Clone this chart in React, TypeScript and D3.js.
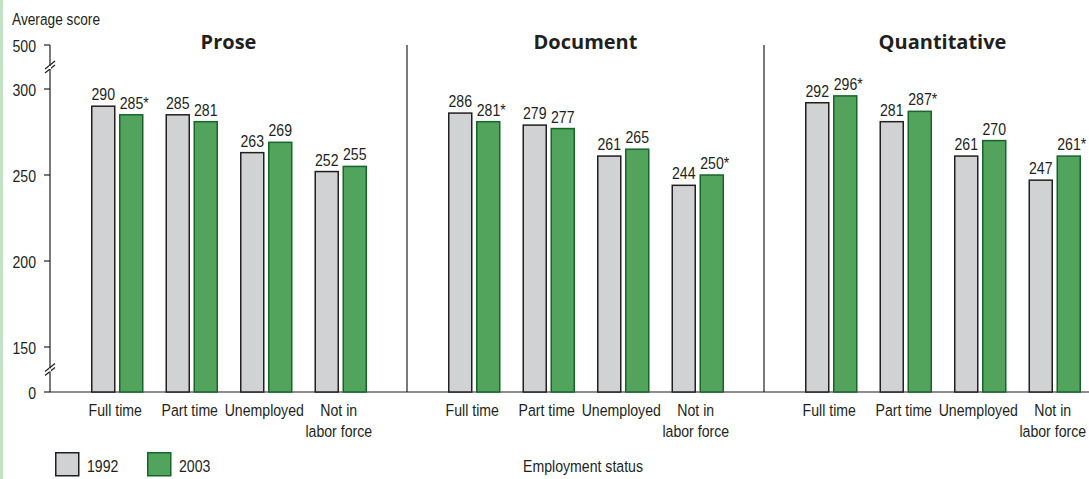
import React from "react";
import * as d3 from "d3";

const panels = ["Prose", "Document", "Quantitative"];
const categories = ["Full time", "Part time", "Unemployed", "Not in labor force"];
const categoryLines = [["Full time"], ["Part time"], ["Unemployed"], ["Not in", "labor force"]];
const years = ["1992", "2003"];
const values1992 = [
  [290, 285, 263, 252],
  [286, 279, 261, 244],
  [292, 281, 261, 247],
];
const values2003 = [
  [285, 281, 269, 255],
  [281, 277, 265, 250],
  [296, 287, 270, 261],
];
const labels1992 = [
  ["290", "285", "263", "252"],
  ["286", "279", "261", "244"],
  ["292", "281", "261", "247"],
];
const labels2003 = [
  ["285*", "281", "269", "255"],
  ["281*", "277", "265", "250*"],
  ["296*", "287*", "270", "261*"],
];
const yTicks = [0, 150, 200, 250, 300, 500];

const W = 1089;
const H = 479;
const FONT = "'Liberation Sans', Arial, sans-serif";
const TITLE_FONT = "'Open Sans', 'Noto Sans', sans-serif";
const GRAY_FILL = "#d1d2d4";
const GRAY_STROKE = "#231f20";
const GREEN_FILL = "#52a35c";
const GREEN_STROKE = "#17652a";
const SX = 0.83;

const T = ({ x, y, anchor = "start", size = 17, children }: any) => (
  <text
    transform={`translate(${x},${y}) scale(${SX},1)`}
    fontFamily={FONT}
    fill="#231f20"
    fontSize={size}
    textAnchor={anchor}
  >
    {children}
  </text>
);

export default function App() {
  const axisX = 50;
  const panelW = 357;
  // piecewise scale with broken axis
  const y = d3.scaleLinear().domain([0, 150, 300, 500]).range([392, 347, 89, 45]);
  const xPanel = d3
    .scaleBand<string>()
    .domain(panels)
    .range([axisX, axisX + panelW * 3])
    .padding(0);
  const xCat = d3.scaleBand<string>().domain(categories).range([30, 328]).padding(0);
  const barW = 23;
  const gap = 5;

  const breakMark = (cy: number, key: string) => (
    <g key={key}>
      <line x1={axisX - 5} y1={cy + 4} x2={axisX + 5} y2={cy - 4} stroke="#231f20" strokeWidth={1.2} />
      <line x1={axisX - 5} y1={cy + 8} x2={axisX + 5} y2={cy} stroke="#231f20" strokeWidth={1.2} />
      <rect x={axisX - 1} y={cy + 1} width={2} height={3} fill="#fff" />
    </g>
  );

  return (
    <svg
      width={W}
      height={H}
      style={{ position: "absolute", left: 0, top: 0, background: "#fff" }}
    >
      <rect x={0} y={0} width={3} height={H} fill="#c3e2c4" />
      <T x={12} y={25} size={16.5}>
        Average score
      </T>

      {/* y axis */}
      <line x1={axisX} y1={y(500)} x2={axisX} y2={y(0)} stroke="#231f20" strokeWidth={1.2} />
      {yTicks.map((t) => (
        <g key={t}>
          <line x1={axisX - 6} x2={axisX} y1={y(t)} y2={y(t)} stroke="#231f20" strokeWidth={1.2} />
          <T x={36} y={y(t) + 7} anchor="end">
            {t}
          </T>
        </g>
      ))}
      {breakMark(y(400) - 2, "b1")}
      {breakMark(y(75) - 2, "b2")}

      {/* baseline */}
      <line x1={axisX} x2={W} y1={y(0)} y2={y(0)} stroke="#231f20" strokeWidth={1.2} />

      {panels.map((p, pi) => {
        const px = xPanel(p)!;
        return (
          <g key={p}>
            {pi > 0 && (
              <line x1={px} x2={px} y1={y(500)} y2={y(0)} stroke="#231f20" strokeWidth={1.2} />
            )}
            <text
              x={px + panelW / 2}
              y={49}
              fontFamily={TITLE_FONT}
              fontWeight="bold"
              fontSize={20}
              textAnchor="middle"
              fill="#231f20"
            >
              {p}
            </text>
            {categories.map((c, ci) => {
              const cx = px + xCat(c)! + xCat.bandwidth() / 2;
              const gx = cx - gap / 2 - barW;
              const grx = cx + gap / 2;
              const v1 = values1992[pi][ci];
              const v2 = values2003[pi][ci];
              return (
                <g key={c}>
                  <rect
                    x={gx}
                    y={y(v1)}
                    width={barW}
                    height={y(0) - y(v1)}
                    fill={GRAY_FILL}
                    stroke={GRAY_STROKE}
                    strokeWidth={1.5}
                  />
                  <rect
                    x={grx}
                    y={y(v2)}
                    width={barW}
                    height={y(0) - y(v2)}
                    fill={GREEN_FILL}
                    stroke={GREEN_STROKE}
                    strokeWidth={1.5}
                  />
                  <T x={gx + barW / 2} y={y(v1) - 6} anchor="middle">
                    {labels1992[pi][ci]}
                  </T>
                  <T
                    x={grx + barW / 2 + (labels2003[pi][ci].endsWith("*") ? 3 : 0)}
                    y={y(v2) - 6}
                    anchor="middle"
                  >
                    {labels2003[pi][ci]}
                  </T>
                  {categoryLines[ci].map((ln, li) => (
                    <T key={li} x={cx - 2} y={416 + li * 21} anchor="middle">
                      {ln}
                    </T>
                  ))}
                </g>
              );
            })}
          </g>
        );
      })}

      {/* legend */}
      {years.map((yr, i) => (
        <g key={yr} transform={`translate(${55 + i * 92},452)`}>
          <rect
            x={0.75}
            y={0.75}
            width={23}
            height={23}
            fill={i === 0 ? GRAY_FILL : GREEN_FILL}
            stroke={i === 0 ? GRAY_STROKE : GREEN_STROKE}
            strokeWidth={1.5}
          />
          <T x={32} y={20}>
            {yr}
          </T>
        </g>
      ))}
      <T x={583} y={472} anchor="middle">
        Employment status
      </T>
    </svg>
  );
}
